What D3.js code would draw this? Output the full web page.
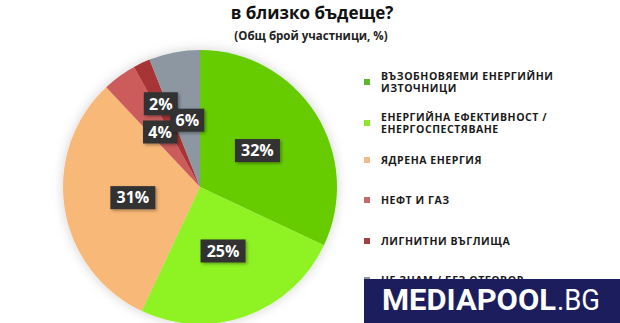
<!DOCTYPE html>
<html>
<head>
    <meta charset="utf-8">
    <title>Енергийни източници</title>
    <script src="https://cdn.jsdelivr.net/npm/d3@7"></script>
    <style>
        body { margin: 0; background: #fff; }
        svg { display: block; }
        .title { font-family: "Open Sans", sans-serif; font-weight: 700; }
        .legend text { font-family: "Open Sans", sans-serif; font-weight: 700; font-size: 10.5px; letter-spacing: 0.55px; fill: #1a1a1a; }
        .lbl text { font-family: "Open Sans", sans-serif; font-weight: 700; font-size: 16px; fill: #fff; }
    </style>
</head>
<body>
<script>
    // данни
    var categories = [
        ["ВЪЗОБНОВЯЕМИ ЕНЕРГИЙНИ", "ИЗТОЧНИЦИ"],
        ["ЕНЕРГИЙНА ЕФЕКТИВНОСТ /", "ЕНЕРГОСПЕСТЯВАНЕ"],
        ["ЯДРЕНА ЕНЕРГИЯ"],
        ["НЕФТ И ГАЗ"],
        ["ЛИГНИТНИ ВЪГЛИЩА"],
        ["НЕ ЗНАМ / БЕЗ ОТГОВОР"]
    ];
    var values = [32, 25, 31, 4, 2, 6];
    var sliceColors = ["#66cc00", "#8ff224", "#f8b877", "#cc5c5c", "#a83636", "#8c97a2"];
    var legendColors = ["#5cb82e", "#8ee82a", "#f0bb88", "#c06a6a", "#a04040", "#8c97a2"];
    var titleText = "в близко бъдеще?";
    var subtitleText = "(Общ брой участници, %)";

    var width = 620, height = 323,
        cx = 200, cy = 187,
        radius = 137;

    var svg = d3.select("body").append("svg")
        .attr("width", width)
        .attr("height", height);

    var defs = svg.append("defs");
    var sh = defs.append("filter").attr("id", "pieShadow")
        .attr("x", "-20%").attr("y", "-20%").attr("width", "140%").attr("height", "140%");
    sh.append("feDropShadow").attr("dx", 0).attr("dy", 0)
        .attr("stdDeviation", 6).attr("flood-color", "#000").attr("flood-opacity", 0.18);
    var bs = defs.append("filter").attr("id", "boxShadow")
        .attr("x", "-30%").attr("y", "-30%").attr("width", "160%").attr("height", "160%");
    bs.append("feDropShadow").attr("dx", 1.5).attr("dy", 1.5)
        .attr("stdDeviation", 1.5).attr("flood-color", "#000").attr("flood-opacity", 0.35);

    // titre
    svg.append("text").attr("class", "title")
        .attr("x", 312).attr("y", 19)
        .attr("text-anchor", "middle")
        .attr("font-size", 17)
        .attr("fill", "#111")
        .text(titleText);
    svg.append("text").attr("class", "title")
        .attr("x", 311).attr("y", 40)
        .attr("text-anchor", "middle")
        .attr("font-size", 11.5)
        .attr("fill", "#222")
        .text(subtitleText);

    // pie
    var pie = d3.pie().sort(null).value(function(d) { return d; });
    var arcs = pie(values);
    var arc = d3.arc().innerRadius(0).outerRadius(radius);

    var g = svg.append("g").attr("transform", "translate(" + cx + "," + cy + ")");
    g.append("g").attr("filter", "url(#pieShadow)")
        .selectAll("path").data(arcs).enter().append("path")
        .attr("d", arc)
        .attr("fill", function(d, i) { return sliceColors[i]; });

    // étiquettes
    var labelArc = d3.arc().innerRadius(68).outerRadius(68);
    var outerLabelArc = d3.arc().innerRadius(92).outerRadius(92);
    var lbl = g.selectAll("g.lbl").data(arcs).enter().append("g")
        .attr("class", "lbl")
        .attr("transform", function(d) {
            var c = (d.data < 3 ? outerLabelArc : labelArc).centroid(d);
            return "translate(" + c[0] + "," + c[1] + ")";
        });
    lbl.append("rect")
        .attr("x", function(d) { return d.data >= 10 ? -22.5 : -17; })
        .attr("y", -11.5)
        .attr("width", function(d) { return d.data >= 10 ? 45 : 34; })
        .attr("height", 23)
        .attr("fill", "#333333")
        .attr("filter", "url(#boxShadow)");
    lbl.append("text")
        .attr("text-anchor", "middle")
        .attr("dy", "0.36em")
        .text(function(d) { return d.data + "%"; });

    // légende
    var legendY = [82, 123, 160, 200, 241, 280];
    var legend = svg.append("g").attr("class", "legend")
        .selectAll("g").data(categories).enter().append("g")
        .attr("transform", function(d, i) { return "translate(364," + legendY[i] + ")"; });
    legend.append("rect")
        .attr("x", 0).attr("y", -3)
        .attr("width", 6).attr("height", 6)
        .attr("fill", function(d, i) { return legendColors[i]; });
    legend.append("text")
        .attr("x", 17)
        .attr("y", function(d) { return d.length > 1 ? -6 + 4 : 4; })
        .selectAll("tspan").data(function(d) { return d; }).enter().append("tspan")
        .attr("x", 17)
        .attr("dy", function(d, i) { return i === 0 ? 0 : 12.5; })
        .text(function(d) { return d; });
    legend.select("text")
        .attr("y", function(d) { return d.length > 1 ? -2.5 : 4; });

    // logo
    var logo = svg.append("g");
    logo.append("rect")
        .attr("x", 364).attr("y", 279)
        .attr("width", 256).attr("height", 44)
        .attr("fill", "#1c1d5c");
    logo.append("text")
        .attr("x", 382).attr("y", 310)
        .attr("font-family", "'Liberation Sans Narrow', 'Roboto', sans-serif")
        .attr("font-weight", 700)
        .attr("font-size", 30)
        .attr("fill", "#fff")
        .attr("textLength", 174).attr("lengthAdjust", "spacingAndGlyphs")
        .text("MEDIAPOOL");
    logo.append("text")
        .attr("x", 557).attr("y", 310)
        .attr("font-family", "'Liberation Sans Narrow', 'Roboto', sans-serif")
        .attr("font-weight", 400)
        .attr("font-size", 30)
        .attr("fill", "#fff")
        .attr("textLength", 43).attr("lengthAdjust", "spacingAndGlyphs")
        .text(".BG");
</script>
</body>
</html>
